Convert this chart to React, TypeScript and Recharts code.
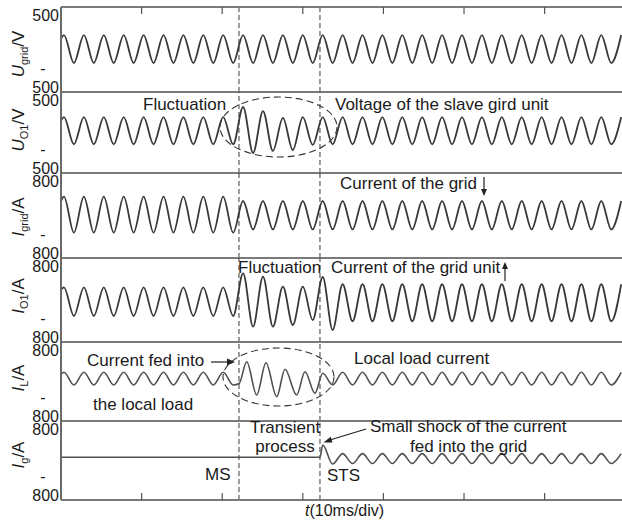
import React from 'react';
import { LineChart, Line, XAxis, YAxis, ReferenceLine } from 'recharts';

const FONT = '"Liberation Sans", Arial, Helvetica, sans-serif';
const CHART_W = 622;
const PLOT_LEFT = 61;
const X_DOMAIN: [number, number] = [0, 69.6];

// time of every half-cycle extreme (ms)
const halfCycleMs = [
  0.37, 1.6, 2.84, 4.07, 5.31, 6.54, 7.78, 9.01, 10.25, 11.48,
  12.72, 13.95, 15.18, 16.42, 17.65, 18.89, 20.12, 21.36, 22.59, 23.83,
  25.06, 26.29, 27.53, 28.76, 30.0, 31.23, 32.47, 33.7, 34.94, 36.17,
  37.41, 38.64, 39.87, 41.11, 42.34, 43.58, 44.81, 46.05, 47.28, 48.52,
  49.75, 50.98, 52.22, 53.45, 54.69, 55.92, 57.16, 58.39, 59.63, 60.86,
  62.1, 63.33, 64.56, 65.8, 67.03, 68.27, 69.5,
];
const MS_MS = 22.08;
const STS_MS = 32.13;
const timeTicks = [10, 20, 30, 40, 50, 60];

const baseTimes = [0, ...halfCycleMs];

const uGridValues = [
  130,
  170, -160, 170, -160, 170, -160, 170, -160, 170, -160,
  170, -160, 170, -160, 170, -160, 170, -160, 170, -160,
  170, -160, 170, -160, 170, -160, 170, -160, 170, -160,
  170, -160, 170, -160, 170, -160, 170, -160, 170, -160,
  170, -160, 170, -160, 170, -160, 170, -160, 170, -160,
  170, -160, 170, -160, 170, -160, 170,
];

const uO1Values = [
  145,
  190, -145, 190, -145, 190, -145, 190, -145, 190, -145,
  190, -145, 190, -145, 190, -145, 190, -145,
  315, -253, 265, -228, 180, -216, 190, -154,
  190, -145, 190, -145,
  190, -145, 190, -145, 190, -145, 190, -145, 190, -145,
  190, -145, 190, -145, 190, -145, 190, -145, 190, -145,
  190, -145, 190, -145, 190, -145, 190,
];

const iGridValues = [
  270,
  354, -324, 354, -324, 354, -324, 354, -324, 354, -324,
  354, -324, 354, -324, 354, -324, 354, -324,
  273, -263,
  273, -263, 273, -263, 273, -263, 273, -263, 273, -263,
  273, -263, 273, -263, 273, -263, 273, -263, 273, -263,
  273, -263, 273, -263, 273, -263, 273, -263, 273, -263,
  273, -263, 273, -263, 273, -263, 273,
];

const iO1Values = [
  190,
  242, -305, 242, -305, 242, -305, 242, -305, 242, -305,
  242, -305, 242, -305, 242, -305, 242, -305,
  509, -509, 444, -509, 253, -476, 253, -381, 438, -571,
  300, -405,
  300, -405, 300, -405, 300, -405, 300, -405, 300, -405,
  300, -405, 300, -405, 300, -405, 300, -405, 300, -405,
  300, -405, 300, -405, 300, -405, 300,
];

const iLTransientMs = [22.1, 23.04, 24.28, 25.43, 26.76, 27.79, 29.24, 30.27, 31.51];
const iLTimes = [0, ...halfCycleMs.slice(0, 18), ...iLTransientMs, ...halfCycleMs.slice(26)];
const iLValues = [
  150,
  186, -71, 186, -71, 186, -71, 186, -71, 186, -71,
  186, -71, 186, -71, 186, -71, 186, -71,
  -40, 401, -273, 381, -308, 247, -273, 198, -239,
  166, -71, 186, -71,
  186, -71, 186, -71, 186, -71, 186, -71, 186, -71,
  186, -71, 186, -71, 186, -71, 186, -71, 186, -71,
  186, -71, 186, -71, 186, -71, 186,
];

const igTimes = [0, STS_MS, ...halfCycleMs.slice(26)];
const igValues = [
  65, 65,
  314, -71,
  140, -62,
  140, -62, 140, -62, 140, -62, 140, -62, 140, -62,
  140, -62, 140, -62, 140, -62, 140, -62, 140, -62,
  140, -62, 140, -62, 140, -62, 140,
];

type Pt = { t: number; v: number };
const zip = (ts: number[], vs: number[]): Pt[] => ts.map((t, i) => ({ t, v: vs[i] }));

type Panel = {
  id: string;
  top: number;
  bottom: number;
  range: number;
  rangeLabel: string;
  data: Pt[];
  stroke: string;
  strokeWidth: number;
  sym: string;
  sub: string;
  unit: string;
  titleY: number;
};

const panels: Panel[] = [
  { id: 'ugrid', top: 7, bottom: 92, range: 500, rangeLabel: '500', data: zip(baseTimes, uGridValues), stroke: '#383838', strokeWidth: 1.8, sym: 'U', sub: 'grid', unit: '/V', titleY: 54 },
  { id: 'uo1', top: 92, bottom: 173, range: 500, rangeLabel: '500', data: zip(baseTimes, uO1Values), stroke: '#383838', strokeWidth: 1.8, sym: 'U', sub: 'O1', unit: '/V', titleY: 130 },
  { id: 'igrid', top: 173, bottom: 258, range: 800, rangeLabel: '800', data: zip(baseTimes, iGridValues), stroke: '#383838', strokeWidth: 1.8, sym: 'I', sub: 'grid', unit: '/A', titleY: 217 },
  { id: 'io1', top: 258, bottom: 342, range: 800, rangeLabel: '800', data: zip(baseTimes, iO1Values), stroke: '#383838', strokeWidth: 1.8, sym: 'I', sub: 'O1', unit: '/A', titleY: 296 },
  { id: 'il', top: 342, bottom: 421, range: 800, rangeLabel: '800', data: zip(iLTimes, iLValues), stroke: '#505050', strokeWidth: 1.6, sym: 'I', sub: 'L', unit: '/A', titleY: 378 },
  { id: 'ig', top: 421, bottom: 500, range: 800, rangeLabel: '800', data: zip(igTimes, igValues), stroke: '#505050', strokeWidth: 1.6, sym: 'I', sub: 'g', unit: '/A', titleY: 455 },
];

const TEXT = '#1a1a1a';

const RangeTick = (props: any) => {
  const { y, payload, label } = props;
  const x = PLOT_LEFT - 2;
  if (payload && payload.value > 0) {
    return (
      <text x={x} y={y + 8} dy="0.35em" textAnchor="end" fontSize={16} fill={TEXT} fontFamily={FONT}>
        {label}
      </text>
    );
  }
  return (
    <g>
      <text x={x - 16} y={y - 23.5} dy="0.35em" textAnchor="middle" fontSize={16} fill={TEXT} fontFamily={FONT}>
        -
      </text>
      <text x={x} y={y - 5} dy="0.35em" textAnchor="end" fontSize={16} fill={TEXT} fontFamily={FONT}>
        {label}
      </text>
    </g>
  );
};

const NoTickLabel = () => <g />;

const BORDER = '#7a7a7a';
const PAD = 4;
const AX = 1;

export default function App() {
  return (
    <div style={{ position: 'absolute', left: 0, top: 0, width: 622, height: 524, background: '#fff', fontFamily: FONT }}>
      {panels.map((p, i) => {
        const h = p.bottom - p.top;
        const isFirst = i === 0;
        const isLast = i === panels.length - 1;
        return (
          <div key={p.id} style={{ position: 'absolute', left: 0, top: p.top - PAD, width: CHART_W, height: h + 2 * PAD }}>
            <LineChart
              width={CHART_W}
              height={h + 2 * PAD}
              data={p.data}
              margin={{ top: isFirst ? PAD - AX : PAD, right: 0, bottom: PAD - AX, left: PLOT_LEFT - AX }}
            >
              {isFirst && (
                <XAxis
                  xAxisId="top"
                  orientation="top"
                  type="number"
                  dataKey="t"
                  domain={X_DOMAIN}
                  ticks={timeTicks}
                  interval={0}
                  height={AX}
                  tick={<NoTickLabel />}
                  tickSize={-7}
                  tickLine={{ stroke: '#555', strokeWidth: 1.2 }}
                  axisLine={{ stroke: BORDER, strokeWidth: 2 }}
                  allowDataOverflow
                />
              )}
              <XAxis
                type="number"
                dataKey="t"
                domain={X_DOMAIN}
                ticks={timeTicks}
                interval={0}
                height={AX}
                tick={isLast ? <NoTickLabel /> : false}
                tickSize={-7}
                tickLine={isLast ? { stroke: '#555', strokeWidth: 1.2 } : false}
                axisLine={{ stroke: BORDER, strokeWidth: 2 }}
                allowDataOverflow
              />
              <YAxis
                type="number"
                domain={[-p.range, p.range]}
                ticks={[p.range, -p.range]}
                interval={0}
                width={AX}
                tickLine={false}
                tickSize={0}
                tickMargin={2}
                axisLine={{ stroke: '#6a6a6a', strokeWidth: 2 }}
                tick={<RangeTick label={p.rangeLabel} />}
                allowDataOverflow
              />
              <ReferenceLine x={MS_MS} stroke="#3a3a3a" strokeWidth={1} strokeDasharray="5 3" />
              <ReferenceLine x={STS_MS} stroke="#3a3a3a" strokeWidth={1} strokeDasharray="5 3" />
              <Line
                dataKey="v"
                type="monotone"
                dot={false}
                activeDot={false}
                stroke={p.stroke}
                strokeWidth={p.strokeWidth}
                isAnimationActive={false}
              />
            </LineChart>
          </div>
        );
      })}

      <svg
        width={622}
        height={524}
        style={{ position: 'absolute', left: 0, top: 0, pointerEvents: 'none' }}
        fontFamily={FONT}
      >
        {panels.map((p) => (
          <text
            key={'title-' + p.id}
            x={24}
            y={p.titleY}
            transform={`rotate(-90 24 ${p.titleY})`}
            textAnchor="middle"
            fontSize={17}
            fill={TEXT}
          >
            <tspan fontStyle="italic">{p.sym}</tspan>
            <tspan fontSize={11} dy={4}>{p.sub}</tspan>
            <tspan dy={-4}>{p.unit}</tspan>
          </text>
        ))}

        {/* dashed ellipses */}
        <ellipse cx={278.5} cy={127} rx={58.5} ry={30} fill="none" stroke="#333" strokeWidth={1.1} strokeDasharray="7 4" />
        <ellipse cx={278.5} cy={377} rx={55.5} ry={29} fill="none" stroke="#333" strokeWidth={1.1} strokeDasharray="7 4" />

        {/* annotations */}
        <g fontSize={17} fill={TEXT}>
          <text x={143} y={110}>Fluctuation</text>
          <text x={335} y={110}>Voltage of the slave gird unit</text>
          <text x={340} y={189}>Current of the grid</text>
          <text x={238} y={273}>Fluctuation</text>
          <text x={331} y={273}>Current of the grid unit</text>
          <text x={87} y={366}>Current fed into</text>
          <text x={93} y={410}>the local load</text>
          <text x={354} y={364}>Local load current</text>
          <text x={285} y={433} textAnchor="middle">Transient</text>
          <text x={285} y={452} textAnchor="middle">process</text>
          <text x={370} y={432}>Small shock of the current</text>
          <text x={410} y={452}>fed into the grid</text>
          <text x={205} y={480}>MS</text>
          <text x={327} y={481}>STS</text>
        </g>
        <text x={305} y={516} fontSize={16} fill={TEXT}>
          <tspan fontStyle="italic">t</tspan>(10ms/div)
        </text>

        {/* arrows */}
        <g stroke="#222" strokeWidth={1.2} fill="#222">
          <line x1={484} y1={177} x2={484} y2={190} />
          <polygon points="481,189 487,189 484,196" stroke="none" />
          <line x1={505} y1={281} x2={505} y2={268} />
          <polygon points="502,269 508,269 505,262" stroke="none" />
          <line x1={211} y1={362} x2={228} y2={362} />
          <polygon points="227,358.5 227,365.5 235,362" stroke="none" />
          <line x1={366} y1={429} x2={330} y2={440} />
          <polygon points="332.5,442.5 330.7,436.8 323.5,442.5" stroke="none" />
        </g>
      </svg>
    </div>
  );
}
